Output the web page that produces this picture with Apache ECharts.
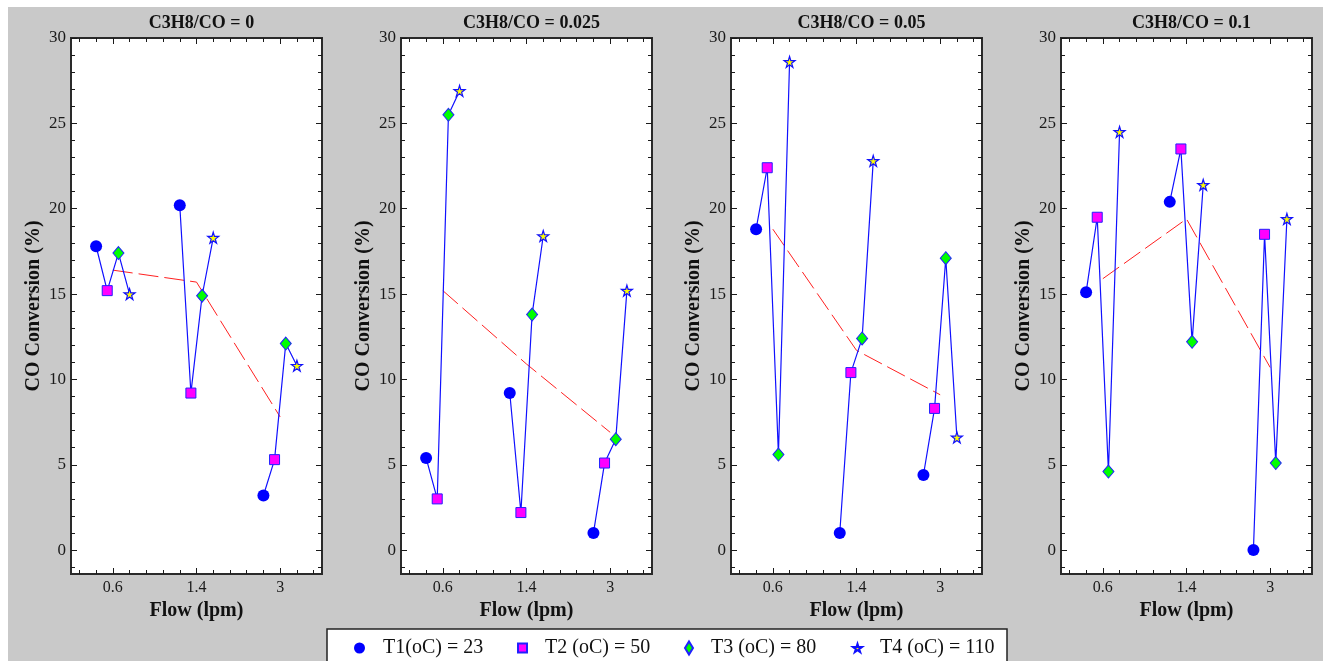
<!DOCTYPE html>
<html>
<head>
<meta charset="utf-8">
<script src="https://cdn.jsdelivr.net/npm/echarts@6/dist/echarts.min.js"></script>
<style>
    html, body { margin: 0; padding: 0; background: #fff; }
    #chart { width: 1323px; height: 661px; }
</style>
</head>
<body>
<div id="chart"></div>
<script>
// x categories (flow, lpm) and panel titles
const flows = ['0.6', '1.4', '3']
const ratios = ['C3H8/CO = 0', 'C3H8/CO = 0.025', 'C3H8/CO = 0.05', 'C3H8/CO = 0.1']
const tempNames = ['T1(oC) = 23', 'T2 (oC) = 50', 'T3 (oC) = 80', 'T4 (oC) = 110']
// small horizontal shift of each temperature inside a flow group (axis units)
const tempOffset = [-0.2, -0.067, 0.067, 0.2]

// CO conversion (%) per panel, values at flows 0.6 / 1.4 / 3
const t1 = [[17.8, 20.2, 3.2], [5.4, 9.2, 1.0], [18.8, 1.0, 4.4], [15.1, 20.4, 0.0]]
const t2 = [[15.2, 9.2, 5.3], [3.0, 2.2, 5.1], [22.4, 10.4, 8.3], [19.5, 23.5, 18.5]]
const t3 = [[17.4, 14.9, 12.1], [25.5, 13.8, 6.5], [5.6, 12.4, 17.1], [4.6, 12.2, 5.1]]
const t4 = [[15.0, 18.3, 10.8], [26.9, 18.4, 15.2], [28.6, 22.8, 6.6], [24.5, 21.4, 19.4]]
// red dashed trend (group average) per panel
const avg = [[16.4, 15.7, 7.8], [15.2, 10.9, 6.9], [18.8, 11.7, 9.1], [15.9, 19.4, 10.7]]

const yMajor = [0, 5, 10, 15, 20, 25, 30]
const yMinor = [-1, 1, 2, 3, 4, 6, 7, 8, 9, 11, 12, 13, 14, 16, 17, 18, 19, 21, 22, 23, 24, 26, 27, 28, 29]
const xMajor = [1, 2, 3]
const xMinor = [0.6, 0.8, 1.2, 1.4, 1.6, 1.8, 2.2, 2.4, 2.6, 2.8, 3.2, 3.4]

const temps = [t1, t2, t3, t4]
const serif = 'Liberation Serif'
const ink = '#1a1a1a'
const blue = '#1010ff'
const star = 'path://M50,0 L61,35 L98,35 L68,57 L79,91 L50,70 L21,91 L32,57 L2,35 L39,35 Z'

const symbols = [
    { symbol: 'circle', symbolSize: 12, itemStyle: { color: '#0000ff', borderColor: '#0000ff', borderWidth: 0, opacity: 1 } },
    { symbol: 'rect', symbolSize: 10, itemStyle: { color: '#ff00ff', borderColor: '#2020ff', borderWidth: 1, opacity: 1 } },
    { symbol: 'diamond', symbolSize: [11, 13], itemStyle: { color: '#00ff00', borderColor: '#2020ff', borderWidth: 1, opacity: 1 } },
    { symbol: star, symbolSize: 11, itemStyle: { color: '#ffff00', borderColor: '#1010ff', borderWidth: 1.2, opacity: 1 } }
]

const grids = []
const xAxes = []
const yAxes = []
const titles = []
const series = []

function tickAxis(base, values, len, label) {
    return Object.assign({
        type: 'value',
        axisLine: { show: false, onZero: false },
        splitLine: { show: false },
        axisTick: { show: true, inside: true, length: len, customValues: values, lineStyle: { color: ink, width: 1 } },
        axisLabel: label ? Object.assign({ customValues: values }, label) : { show: false }
    }, base)
}

for (let p = 0; p < 4; p++) {
    const left = 71 + 330 * p
    grids.push({ left: left, top: 38, width: 251, height: 536, show: true, backgroundColor: '#fff', borderColor: '#2a2a2a', borderWidth: 2 })
    titles.push({
        text: ratios[p], left: left + 125.5, top: 9, textAlign: 'center',
        textStyle: { fontFamily: serif, fontWeight: 'bold', fontSize: 18, color: '#111' }
    })

    const xb = { gridIndex: p, min: 0.5, max: 3.5 }
    xAxes.push(tickAxis(Object.assign({ position: 'bottom', name: 'Flow (lpm)', nameLocation: 'middle', nameGap: 26,
        nameTextStyle: { fontFamily: serif, fontWeight: 'bold', fontSize: 20, color: '#111' } }, xb), xMajor, 6,
        { margin: 6, fontFamily: serif, fontSize: 16, color: ink, formatter: v => flows[Math.round(v) - 1] }))
    xAxes.push(tickAxis(Object.assign({ position: 'bottom' }, xb), xMinor, 4))
    xAxes.push(tickAxis(Object.assign({ position: 'top' }, xb), xMajor, 6))
    xAxes.push(tickAxis(Object.assign({ position: 'top' }, xb), xMinor, 4))

    const yb = { gridIndex: p, min: -1.4, max: 30 }
    yAxes.push(tickAxis(Object.assign({ position: 'left', name: 'CO Conversion (%)', nameLocation: 'middle', nameGap: 27,
        nameTextStyle: { fontFamily: serif, fontWeight: 'bold', fontSize: 20, color: '#111' } }, yb), yMajor, 6,
        { margin: 5, fontFamily: serif, fontSize: 17, color: ink }))
    yAxes.push(tickAxis(Object.assign({ position: 'left' }, yb), yMinor, 4))
    yAxes.push(tickAxis(Object.assign({ position: 'right' }, yb), yMajor, 6))
    yAxes.push(tickAxis(Object.assign({ position: 'right' }, yb), yMinor, 4))

    const ax = 4 * p
    // trend line
    series.push({
        type: 'line', xAxisIndex: ax, yAxisIndex: ax, silent: true, showSymbol: false, z: 1,
        lineStyle: { color: '#ff2020', width: 1, type: [20, 6] },
        data: flows.map((f, i) => [i + 1, avg[p][i]])
    })
    // blue connectors, one per flow group
    flows.forEach((f, i) => {
        series.push({
            type: 'line', xAxisIndex: ax, yAxisIndex: ax, silent: true, showSymbol: false, z: 2,
            lineStyle: { color: blue, width: 1.2 },
            data: temps.map((t, k) => [i + 1 + tempOffset[k], t[p][i]])
        })
    })
    // markers
    temps.forEach((t, k) => {
        series.push(Object.assign({
            type: 'scatter', name: tempNames[k], xAxisIndex: ax, yAxisIndex: ax, z: 3,
            data: flows.map((f, i) => [i + 1 + tempOffset[k], t[p][i]])
        }, symbols[k]))
    })
}

const legendLeft = [349, 512, 679, 847]
const legendSize = [[11, 11], [9, 9], [8, 13], [9, 9]]
const legends = tempNames.map((n, k) => ({
    data: [n], left: legendLeft[k], top: 633, itemWidth: legendSize[k][0], itemHeight: legendSize[k][1],
    selectedMode: false,
    textStyle: { fontFamily: serif, fontSize: 20, color: '#111', padding: [0, 0, 0, 13] }
}))

const chart = echarts.init(document.getElementById('chart'))
chart.setOption({
    animation: false,
    backgroundColor: '#fff',
    graphic: [
        { type: 'rect', z: -10, shape: { x: 8, y: 7, width: 1315, height: 654 }, style: { fill: '#c9c9c9' } },
        { type: 'rect', z: -9, shape: { x: 327, y: 629, width: 680, height: 40 }, style: { fill: '#fff', stroke: '#222', lineWidth: 1.5 } }
    ],
    title: titles,
    legend: legends,
    grid: grids,
    xAxis: xAxes,
    yAxis: yAxes,
    series: series
})
</script>
</body>
</html>
